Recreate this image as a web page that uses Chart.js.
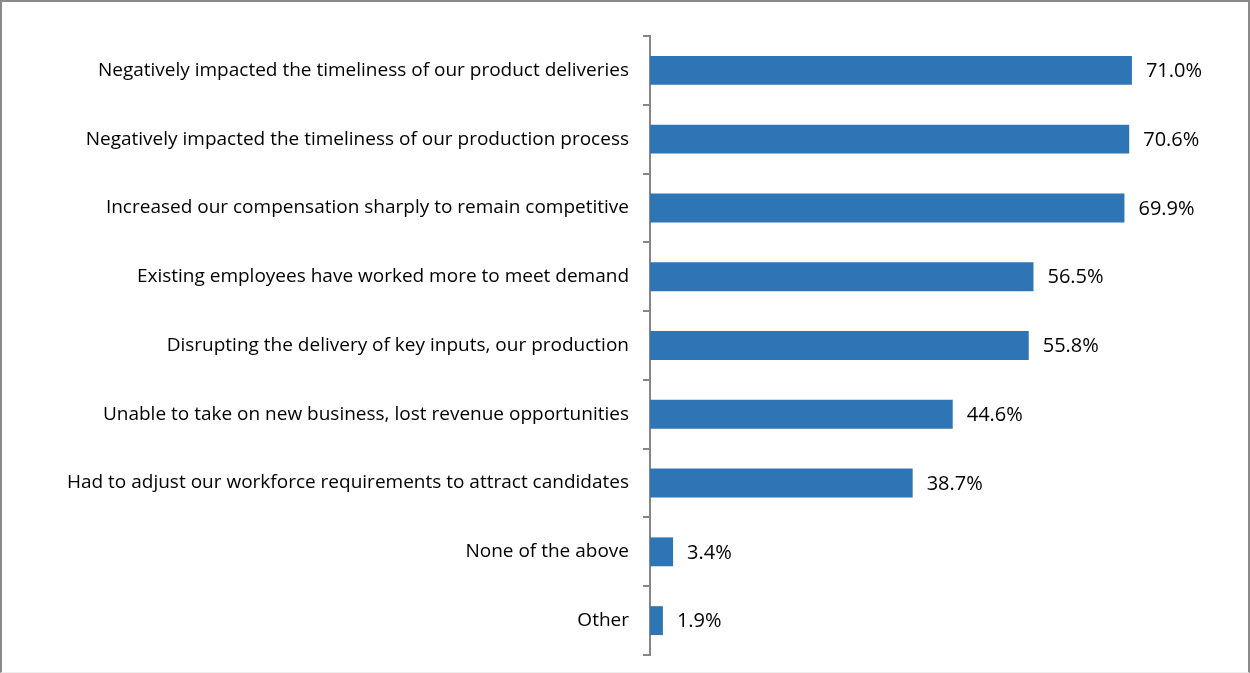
<!DOCTYPE html>
<html>
<head>
    <title>Workforce impact</title>
    <script src="https://cdn.jsdelivr.net/npm/chart.js@4.4.1/dist/chart.umd.min.js"></script>
    <style>
        html, body { margin: 0; padding: 0; background: #fff; }
        .ramka {
            width: 1250px; height: 673px; box-sizing: border-box;
            border-top: 2px solid #8a8a8a; border-left: 2px solid #8a8a8a;
            border-right: 2px solid #8a8a8a; border-bottom: 1px solid #eeeeee;
        }
        canvas { display: block; }
    </style>
</head>
<body>
<div class="ramka">
    <canvas id="wykres" width="1246" height="670"></canvas>
</div>
<script>
    // kategorie (od gory do dolu) i procent odpowiedzi
    var kategorie = [
        "Negatively impacted the timeliness of our product deliveries",
        "Negatively impacted the timeliness of our production process",
        "Increased our compensation sharply to remain competitive",
        "Existing employees have worked more to meet demand",
        "Disrupting the delivery of key inputs, our production",
        "Unable to take on new business, lost revenue opportunities",
        "Had to adjust our workforce requirements to attract candidates",
        "None of the above",
        "Other"
    ];
    var wartosci = [71.0, 70.6, 69.9, 56.5, 55.8, 44.6, 38.7, 3.4, 1.9];

    var czcionka = "'Open Sans', Lato, sans-serif";

    // etykiety z wartoscia obok kazdego slupka
    var etykiety = {
        id: 'etykiety',
        afterDatasetsDraw(chart) {
            const ctx = chart.ctx;
            const meta = chart.getDatasetMeta(0);
            ctx.save();
            ctx.font = "20px " + czcionka;
            ctx.fillStyle = "#000";
            ctx.textAlign = "left";
            ctx.textBaseline = "middle";
            meta.data.forEach((bar, i) => {
                ctx.fillText(wartosci[i].toFixed(1) + "%", bar.x + 14, bar.y + 1);
            });
            ctx.restore();
        }
    };

    const ctx = document.getElementById('wykres').getContext('2d');
    const myChart = new Chart(ctx, {
        type: 'bar',
        data: {
            labels: kategorie,
            datasets: [{
                data: wartosci,
                backgroundColor: "#2E75B6",
                barPercentage: 0.42,
                categoryPercentage: 1
            }]
        },
        options: {
            indexAxis: 'y',
            responsive: false,
            animation: false,
            layout: { padding: { top: 34, bottom: 17, left: 0, right: 55 } },
            plugins: {
                legend: { display: false },
                tooltip: { enabled: false }
            },
            scales: {
                x: { display: false, min: 0, max: 80 },
                y: {
                    // stala szerokosc osi, bez dodatkowego marginesu na etykiety
                    afterFit: s => {
                        s.width = 648;
                        s.paddingTop = 0;
                        s.paddingBottom = 0;
                    },
                    border: { color: "#868686", width: 2 },
                    grid: {
                        drawOnChartArea: false,
                        color: "#868686",
                        lineWidth: 2,
                        tickLength: 7
                    },
                    ticks: {
                        color: "#000",
                        padding: 14,
                        font: { family: czcionka, size: 19 }
                    }
                }
            }
        },
        plugins: [etykiety]
    });
</script>
</body>
</html>
